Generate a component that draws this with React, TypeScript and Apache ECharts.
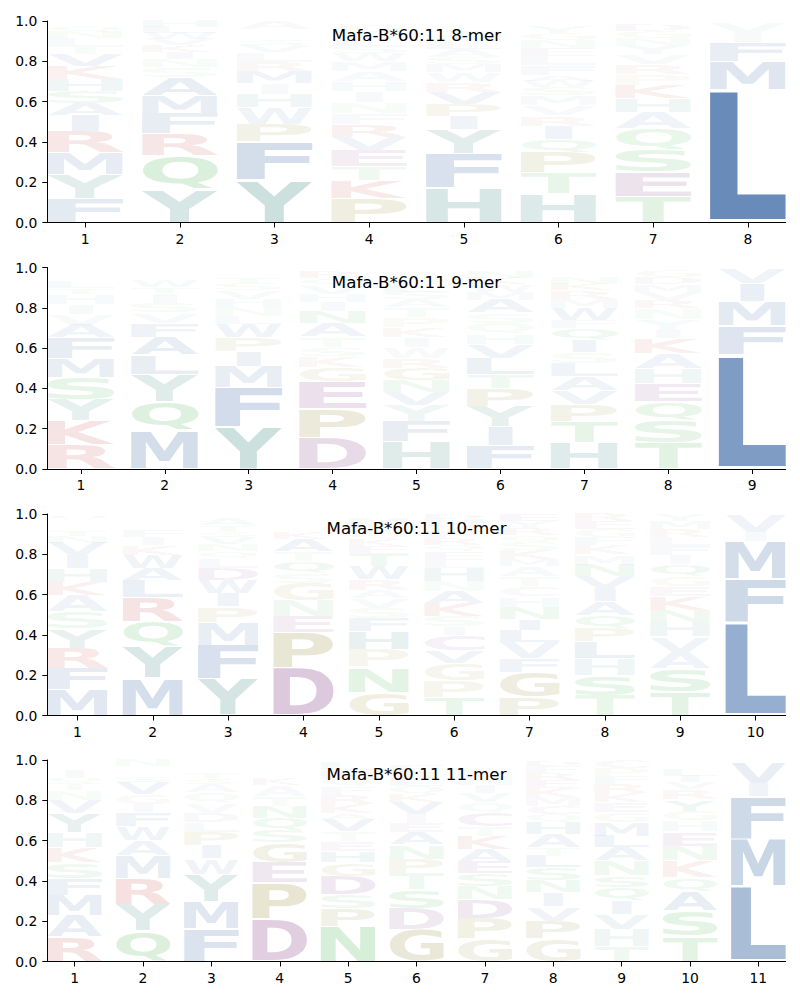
import React, { useEffect, useRef } from "react";
import * as echarts from "echarts";

type Stack = [string, number][];

// Letter stacks, bottom to top, per position (probabilities)
const MER8: Stack[] = [
  [["F", 0.12], ["Y", 0.12], ["M", 0.105], ["R", 0.105], ["I", 0.08], ["A", 0.06], ["S", 0.06], ["H", 0.06], ["K", 0.065], ["V", 0.06], ["T", 0.04], ["L", 0.04], ["N", 0.03], ["Q", 0.03], ["W", 0.025]],
  [["Y", 0.165], ["Q", 0.165], ["R", 0.11], ["F", 0.1], ["M", 0.09], ["A", 0.09], ["S", 0.05], ["N", 0.04], ["I", 0.035], ["K", 0.035], ["V", 0.03], ["W", 0.03], ["L", 0.03], ["H", 0.03]],
  [["Y", 0.21], ["F", 0.19], ["P", 0.09], ["W", 0.08], ["H", 0.065], ["I", 0.055], ["M", 0.06], ["R", 0.045], ["L", 0.05], ["V", 0.035], ["S", 0.03], ["N", 0.025], ["T", 0.025], ["A", 0.04]],
  [["P", 0.12], ["K", 0.09], ["T", 0.07], ["E", 0.08], ["V", 0.065], ["R", 0.06], ["F", 0.055], ["N", 0.055], ["I", 0.055], ["H", 0.05], ["A", 0.05], ["M", 0.05], ["W", 0.04], ["S", 0.035], ["L", 0.035], ["Y", 0.035], ["G", 0.035], ["Q", 0.02]],
  [["H", 0.17], ["F", 0.17], ["Y", 0.12], ["I", 0.065], ["P", 0.06], ["V", 0.06], ["R", 0.05], ["W", 0.05], ["M", 0.04], ["S", 0.035], ["A", 0.04], ["L", 0.035], ["N", 0.03], ["T", 0.03], ["Q", 0.02], ["K", 0.015], ["E", 0.01]],
  [["H", 0.145], ["T", 0.1], ["P", 0.1], ["Q", 0.07], ["I", 0.065], ["R", 0.05], ["V", 0.05], ["M", 0.05], ["S", 0.04], ["W", 0.03], ["A", 0.03], ["F", 0.05], ["L", 0.045], ["E", 0.04], ["N", 0.04], ["G", 0.035], ["Y", 0.03], ["D", 0.02], ["C", 0.01]],
  [["T", 0.13], ["E", 0.12], ["S", 0.11], ["Q", 0.105], ["A", 0.08], ["H", 0.07], ["K", 0.065], ["P", 0.055], ["R", 0.05], ["V", 0.05], ["Y", 0.045], ["N", 0.035], ["G", 0.035], ["D", 0.03], ["F", 0.02]],
  [["L", 0.66], ["M", 0.14], ["F", 0.095], ["I", 0.045], ["V", 0.055], ["W", 0.005]],
];

const MER9: Stack[] = [
  [["R", 0.12], ["K", 0.12], ["Y", 0.105], ["S", 0.11], ["M", 0.095], ["F", 0.1], ["A", 0.065], ["V", 0.055], ["I", 0.05], ["H", 0.05], ["T", 0.03], ["L", 0.03], ["N", 0.025], ["Q", 0.02], ["W", 0.015], ["E", 0.01]],
  [["M", 0.19], ["Q", 0.145], ["Y", 0.135], ["L", 0.095], ["A", 0.09], ["F", 0.07], ["V", 0.05], ["S", 0.05], ["I", 0.05], ["T", 0.03], ["W", 0.03], ["N", 0.025], ["R", 0.02], ["K", 0.015], ["H", 0.005]],
  [["Y", 0.21], ["F", 0.195], ["M", 0.105], ["I", 0.075], ["P", 0.07], ["W", 0.065], ["L", 0.04], ["N", 0.045], ["H", 0.04], ["V", 0.04], ["S", 0.035], ["T", 0.03], ["A", 0.025], ["R", 0.02], ["Q", 0.005]],
  [["D", 0.155], ["P", 0.145], ["E", 0.135], ["G", 0.07], ["K", 0.055], ["S", 0.045], ["T", 0.05], ["A", 0.07], ["N", 0.06], ["I", 0.045], ["H", 0.04], ["V", 0.04], ["Q", 0.035], ["R", 0.03], ["F", 0.025]],
  [["H", 0.135], ["F", 0.1], ["Y", 0.08], ["V", 0.065], ["N", 0.06], ["G", 0.06], ["R", 0.05], ["W", 0.055], ["I", 0.05], ["K", 0.05], ["P", 0.05], ["T", 0.045], ["A", 0.04], ["S", 0.04], ["L", 0.035], ["Q", 0.035], ["E", 0.025], ["M", 0.025]],
  [["F", 0.115], ["I", 0.095], ["Y", 0.1], ["P", 0.09], ["T", 0.068], ["L", 0.082], ["V", 0.07], ["H", 0.05], ["Q", 0.055], ["S", 0.05], ["A", 0.065], ["M", 0.04], ["W", 0.035], ["K", 0.03], ["N", 0.03], ["E", 0.025]],
  [["H", 0.13], ["T", 0.105], ["P", 0.085], ["V", 0.07], ["A", 0.07], ["L", 0.065], ["S", 0.055], ["I", 0.06], ["Q", 0.06], ["F", 0.04], ["W", 0.06], ["M", 0.045], ["R", 0.04], ["K", 0.035], ["N", 0.03], ["E", 0.025], ["Y", 0.025]],
  [["T", 0.13], ["S", 0.11], ["Q", 0.095], ["E", 0.09], ["H", 0.075], ["A", 0.075], ["K", 0.075], ["I", 0.045], ["Y", 0.05], ["N", 0.055], ["R", 0.04], ["V", 0.04], ["M", 0.035], ["D", 0.035], ["G", 0.035], ["L", 0.015]],
  [["L", 0.565], ["F", 0.145], ["M", 0.12], ["I", 0.09], ["V", 0.075], ["W", 0.005]],
];

const MER10: Stack[] = [
  [["M", 0.13], ["F", 0.105], ["R", 0.1], ["Y", 0.095], ["S", 0.085], ["A", 0.08], ["K", 0.068], ["H", 0.066], ["I", 0.065], ["V", 0.064], ["N", 0.03], ["T", 0.03], ["L", 0.025], ["W", 0.025], ["Q", 0.026], ["E", 0.006]],
  [["M", 0.185], ["Y", 0.155], ["Q", 0.125], ["R", 0.12], ["L", 0.085], ["A", 0.06], ["W", 0.065], ["K", 0.05], ["I", 0.04], ["F", 0.03], ["V", 0.025], ["S", 0.02], ["T", 0.02], ["N", 0.015], ["H", 0.005]],
  [["Y", 0.18], ["F", 0.17], ["M", 0.112], ["P", 0.078], ["I", 0.066], ["W", 0.066], ["D", 0.058], ["L", 0.05], ["Q", 0.035], ["N", 0.035], ["V", 0.035], ["S", 0.03], ["T", 0.03], ["A", 0.03], ["E", 0.025]],
  [["D", 0.235], ["P", 0.175], ["E", 0.08], ["N", 0.078], ["G", 0.088], ["S", 0.052], ["Q", 0.058], ["T", 0.05], ["A", 0.06], ["K", 0.03], ["H", 0.025], ["I", 0.02], ["R", 0.02], ["V", 0.015], ["F", 0.014]],
  [["G", 0.116], ["N", 0.124], ["P", 0.086], ["H", 0.09], ["F", 0.066], ["S", 0.053], ["V", 0.045], ["A", 0.04], ["R", 0.055], ["W", 0.065], ["T", 0.06], ["E", 0.04], ["K", 0.035], ["Q", 0.035], ["L", 0.035], ["M", 0.035], ["Y", 0.02]],
  [["T", 0.09], ["P", 0.083], ["G", 0.087], ["V", 0.063], ["C", 0.074], ["I", 0.043], ["S", 0.053], ["K", 0.065], ["A", 0.058], ["N", 0.052], ["H", 0.065], ["L", 0.04], ["E", 0.04], ["Q", 0.035], ["R", 0.03], ["F", 0.03], ["Y", 0.03], ["M", 0.035], ["D", 0.027]],
  [["P", 0.09], ["G", 0.126], ["F", 0.069], ["V", 0.08], ["L", 0.058], ["I", 0.057], ["N", 0.06], ["H", 0.05], ["C", 0.05], ["T", 0.05], ["A", 0.05], ["M", 0.035], ["K", 0.045], ["S", 0.04], ["Q", 0.035], ["R", 0.035], ["Y", 0.035], ["E", 0.03], ["D", 0.005]],
  [["T", 0.1], ["S", 0.1], ["H", 0.083], ["L", 0.082], ["P", 0.067], ["Q", 0.066], ["A", 0.067], ["I", 0.065], ["V", 0.06], ["N", 0.058], ["M", 0.05], ["K", 0.045], ["F", 0.04], ["G", 0.04], ["E", 0.04], ["R", 0.037]],
  [["T", 0.12], ["S", 0.112], ["A", 0.084], ["V", 0.074], ["H", 0.075], ["N", 0.058], ["K", 0.067], ["E", 0.05], ["G", 0.05], ["Q", 0.058], ["I", 0.049], ["F", 0.045], ["L", 0.045], ["R", 0.04], ["M", 0.04], ["Y", 0.033]],
  [["L", 0.46], ["F", 0.215], ["M", 0.19], ["I", 0.045], ["V", 0.085], ["W", 0.005]],
];

const MER11: Stack[] = [
  [["R", 0.12], ["A", 0.108], ["M", 0.102], ["F", 0.083], ["S", 0.077], ["K", 0.076], ["H", 0.074], ["Y", 0.095], ["V", 0.065], ["N", 0.05], ["T", 0.035], ["Q", 0.03], ["I", 0.03], ["L", 0.025], ["E", 0.025], ["W", 0.005]],
  [["Q", 0.153], ["Y", 0.132], ["R", 0.128], ["M", 0.112], ["A", 0.075], ["W", 0.07], ["F", 0.07], ["I", 0.04], ["G", 0.05], ["V", 0.06], ["S", 0.03], ["T", 0.025], ["K", 0.025], ["N", 0.03]],
  [["F", 0.162], ["M", 0.138], ["Y", 0.134], ["W", 0.076], ["I", 0.064], ["P", 0.066], ["L", 0.05], ["D", 0.048], ["V", 0.05], ["Q", 0.05], ["A", 0.04], ["S", 0.03], ["T", 0.03], ["H", 0.025], ["N", 0.02], ["E", 0.017]],
  [["D", 0.208], ["P", 0.182], ["E", 0.1], ["G", 0.1], ["S", 0.06], ["Q", 0.062], ["N", 0.058], ["T", 0.05], ["A", 0.055], ["K", 0.03], ["H", 0.025], ["I", 0.025], ["V", 0.025], ["R", 0.02]],
  [["N", 0.175], ["P", 0.09], ["S", 0.068], ["D", 0.091], ["G", 0.066], ["H", 0.057], ["E", 0.05], ["T", 0.05], ["V", 0.06], ["A", 0.03], ["K", 0.045], ["R", 0.045], ["F", 0.04], ["Q", 0.04], ["M", 0.04], ["L", 0.04], ["Y", 0.013]],
  [["G", 0.16], ["D", 0.105], ["S", 0.09], ["T", 0.08], ["P", 0.075], ["N", 0.07], ["A", 0.06], ["E", 0.045], ["I", 0.045], ["V", 0.06], ["K", 0.04], ["Q", 0.04], ["L", 0.04], ["R", 0.03], ["F", 0.03], ["M", 0.02], ["Y", 0.01]],
  [["G", 0.112], ["P", 0.1], ["D", 0.095], ["N", 0.066], ["S", 0.066], ["E", 0.058], ["A", 0.058], ["K", 0.066], ["T", 0.05], ["C", 0.067], ["Q", 0.05], ["V", 0.045], ["I", 0.04], ["H", 0.04], ["L", 0.035], ["R", 0.025], ["F", 0.025]],
  [["G", 0.112], ["P", 0.09], ["V", 0.07], ["I", 0.07], ["N", 0.06], ["S", 0.064], ["L", 0.058], ["T", 0.04], ["A", 0.066], ["H", 0.058], ["Q", 0.04], ["C", 0.042], ["M", 0.045], ["K", 0.045], ["E", 0.04], ["R", 0.035], ["F", 0.035], ["D", 0.028]],
  [["T", 0.075], ["H", 0.087], ["V", 0.074], ["I", 0.066], ["Q", 0.066], ["S", 0.058], ["N", 0.074], ["A", 0.066], ["L", 0.058], ["M", 0.066], ["G", 0.05], ["E", 0.05], ["K", 0.045], ["R", 0.045], ["F", 0.04], ["P", 0.04], ["C", 0.04]],
  [["T", 0.125], ["S", 0.127], ["A", 0.098], ["Q", 0.067], ["K", 0.083], ["N", 0.074], ["E", 0.07], ["H", 0.054], ["G", 0.05], ["Y", 0.057], ["R", 0.05], ["V", 0.035], ["I", 0.03], ["L", 0.03], ["F", 0.025], ["P", 0.025]],
  [["L", 0.375], ["M", 0.235], ["F", 0.21], ["I", 0.065], ["V", 0.1], ["W", 0.015]],
];

const TITLES = [
  "Mafa-B*60:11 8-mer",
  "Mafa-B*60:11 9-mer",
  "Mafa-B*60:11 10-mer",
  "Mafa-B*60:11 11-mer",
];
const STACKS = [MER8, MER9, MER10, MER11];
const Y_TICK_STEP = 0.2;

const LETTERS = "ACDEFGHIKLMNPQRSTVWY";

const COLOR_GROUPS: [string, number[]][] = [
  ["AFILMVW", [26, 79, 150]],
  ["HY", [15, 110, 100]],
  ["KR", [185, 25, 25]],
  ["DE", [110, 25, 110]],
  ["C", [120, 40, 150]],
  ["NQST", [30, 160, 40]],
  ["GP", [125, 115, 10]],
];

// layout
const GRID_TOPS = [21, 267.5, 514, 760];
const GRID_H = 201.5;
const GRID_LEFT = 47.3;
const GRID_RIGHT = 14.3;
const HALF_W = 0.4;
const VPAD = 0.05;
const FS = 100;
const BASELINE_FIX = 0.085 * FS;
const FONT_FAMILY = '"DejaVu Sans"';
const NARROW: Record<string, number> = { I: 0.36 };

function letterColor(ch: string, alpha: number): string {
  let rgb = [80, 80, 80];
  for (const [g, c] of COLOR_GROUPS) if (g.includes(ch)) rgb = c;
  const a = Math.max(0, Math.min(1, alpha));
  return `rgba(${rgb[0]},${rgb[1]},${rgb[2]},${a.toFixed(3)})`;
}

const metricCache: Record<string, { l: number; r: number; a: number; d: number }> = {};
function metrics(ch: string) {
  if (!metricCache[ch]) {
    const ctx = document.createElement("canvas").getContext("2d")!;
    ctx.font = `bold ${FS}px ${FONT_FAMILY}`;
    ctx.textAlign = "left";
    ctx.textBaseline = "middle";
    const m = ctx.measureText(ch);
    metricCache[ch] = {
      l: m.actualBoundingBoxLeft,
      r: m.actualBoundingBoxRight,
      a: m.actualBoundingBoxAscent,
      d: m.actualBoundingBoxDescent,
    };
  }
  return metricCache[ch];
}

function buildData(stacks: Stack[]) {
  const out: number[][] = [];
  stacks.forEach((stack, i) => {
    let y = 0;
    for (const [ch, v] of stack) {
      out.push([i + 1, y, y + v, LETTERS.indexOf(ch)]);
      y += v;
    }
  });
  return out;
}

const renderItem = (_params: any, api: any) => {
  const x = api.value(0);
  const y0 = api.value(1);
  const y1 = api.value(2);
  const ch = LETTERS[api.value(3)];
  const p0 = api.coord([x - HALF_W, y1]);
  const p1 = api.coord([x + HALF_W, y0]);
  const bw = p1[0] - p0[0];
  const bh = p1[1] - p0[1];
  if (bh <= 0.05) return null;
  const pad = (bh * VPAD) / 2;
  const m = metrics(ch);
  const gw = m.l + m.r;
  const gh = m.a + m.d;
  const frac = NARROW[ch] ?? 1;
  const w = bw * frac;
  return {
    type: "text",
    x: p0[0] + (bw - w) / 2,
    y: p0[1] + pad,
    scaleX: w / gw,
    scaleY: (bh - 2 * pad) / gh,
    silent: true,
    style: {
      text: ch,
      x: m.l,
      y: m.a - BASELINE_FIX,
      fill: letterColor(ch, y1 - y0),
      fontSize: FS,
      fontFamily: FONT_FAMILY,
      fontWeight: "bold",
      textAlign: "left",
      textVerticalAlign: "middle",
    },
  };
};

export default function App() {
  const ref = useRef<HTMLDivElement>(null);
  useEffect(() => {
    if (!ref.current) return;
    const chart = echarts.init(ref.current, undefined, { renderer: "svg" });
    const axisText = { color: "#000", fontSize: 13.9, fontFamily: FONT_FAMILY };
    const grids = GRID_TOPS.map((t) => ({ left: GRID_LEFT, right: GRID_RIGHT, top: t, height: GRID_H }));
    const xAxes = STACKS.map((s, i) => {
      const pos = s.map((_, k) => k + 1);
      return {
        gridIndex: i,
        type: "value",
        min: 0.6,
        max: s.length + 0.4,
        axisLine: { show: true, onZero: false, lineStyle: { color: "#000", width: 1 } },
        axisTick: { show: true, customValues: pos, length: 5, lineStyle: { color: "#000" } },
        axisLabel: { show: true, customValues: pos, margin: 9, ...axisText },
        splitLine: { show: false },
      };
    });
    const yAxes = STACKS.map((_, i) => ({
      gridIndex: i,
      type: "value",
      min: 0,
      max: 1,
      interval: Y_TICK_STEP,
      axisLine: { show: true, lineStyle: { color: "#000", width: 1 } },
      axisTick: { show: true, length: 5, lineStyle: { color: "#000" } },
      axisLabel: { formatter: (v: number) => v.toFixed(1), margin: 10, ...axisText },
      splitLine: { show: false },
    }));
    const titles = TITLES.map((t, i) => ({
      text: t,
      left: GRID_LEFT + (800 - GRID_LEFT - GRID_RIGHT) / 2,
      top: GRID_TOPS[i] + 5.5,
      textAlign: "center",
      padding: 0,
      textStyle: { fontSize: 16.7, fontWeight: "normal", color: "#000", fontFamily: FONT_FAMILY },
    }));
    const series = STACKS.map((s, i) => ({
      type: "custom",
      coordinateSystem: "cartesian2d",
      xAxisIndex: i,
      yAxisIndex: i,
      renderItem,
      data: buildData(s),
      silent: true,
      clip: false,
    }));
    chart.setOption({
      animation: false,
      backgroundColor: "#fff",
      title: titles,
      grid: grids,
      xAxis: xAxes,
      yAxis: yAxes,
      series,
    } as any);
    return () => chart.dispose();
  }, []);
  return (
    <div
      ref={ref}
      style={{ position: "absolute", left: 0, top: 0, width: 800, height: 1000 }}
    />
  );
}
